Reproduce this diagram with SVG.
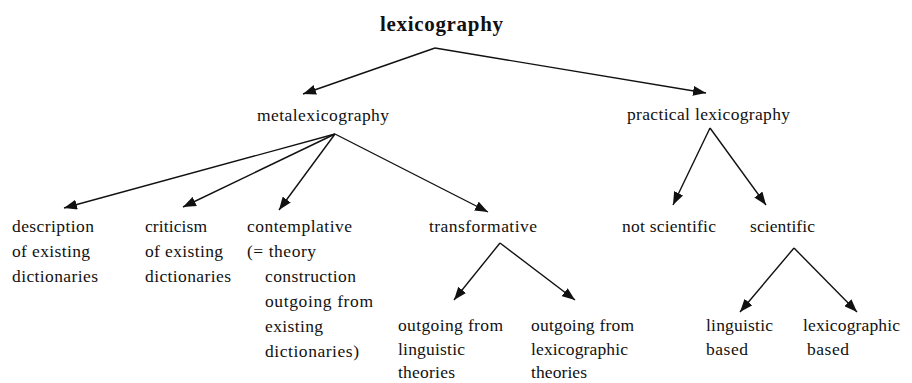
<svg xmlns="http://www.w3.org/2000/svg" width="912" height="383" viewBox="0 0 912 383">
<style>
text{font-family:"Liberation Serif","Times New Roman",serif;font-size:17.5px;fill:#111}
.title{font-size:21px;font-weight:bold}
.c line{stroke:#111;stroke-width:1.4;marker-end:url(#ah)}
</style>
<defs>
<marker id="ah" markerUnits="userSpaceOnUse" markerWidth="14" markerHeight="10" refX="13" refY="5" orient="auto">
<path d="M0,0 L13,5 L0,10 z" fill="#111"/>
</marker>
</defs>
<rect width="912" height="383" fill="#fff"/>
<g id="lexicography"><text class="title" x="380" y="31" textLength="123">lexicography</text></g>
<g id="metalexicography"><text x="257" y="121" textLength="132">metalexicography</text></g>
<g id="practical"><text x="627" y="120" textLength="163">practical lexicography</text></g>
<g id="description">
<text x="12" y="232" textLength="82">description</text>
<text x="12" y="257" textLength="78">of existing</text>
<text x="12" y="282" textLength="86">dictionaries</text>
</g>
<g id="criticism">
<text x="145" y="232" textLength="62">criticism</text>
<text x="145" y="257" textLength="78">of existing</text>
<text x="145" y="282" textLength="86">dictionaries</text>
</g>
<g id="contemplative">
<text x="247" y="232" textLength="105">contemplative</text>
<text x="247" y="257" textLength="69">(= theory</text>
<text x="265" y="282" textLength="91">construction</text>
<text x="265" y="307" textLength="108">outgoing from</text>
<text x="265" y="332" textLength="58">existing</text>
<text x="265" y="357" textLength="94">dictionaries)</text>
</g>
<g id="transformative"><text x="429" y="232" textLength="108">transformative</text></g>
<g id="linguistic-theories">
<text x="398" y="331" textLength="105">outgoing from</text>
<text x="398" y="355" textLength="67">linguistic</text>
<text x="398" y="378" textLength="57">theories</text>
</g>
<g id="lexicographic-theories">
<text x="531" y="331" textLength="103">outgoing from</text>
<text x="531" y="355" textLength="97">lexicographic</text>
<text x="531" y="378" textLength="56">theories</text>
</g>
<g id="not-scientific"><text x="622" y="232" textLength="94">not scientific</text></g>
<g id="scientific"><text x="750" y="232" textLength="65">scientific</text></g>
<g id="linguistic-based">
<text x="706" y="331" textLength="67">linguistic</text>
<text x="706" y="355" textLength="42">based</text>
</g>
<g id="lexicographic-based">
<text x="803" y="331" textLength="97">lexicographic</text>
<text x="807" y="355" textLength="42">based</text>
</g>
<g id="connectors" class="c">
<line x1="435" y1="48" x2="303" y2="94"/>
<line x1="435" y1="48" x2="706" y2="93"/>
<line x1="335" y1="134" x2="64" y2="208"/>
<line x1="335" y1="134" x2="183" y2="207"/>
<line x1="335" y1="134" x2="279" y2="210"/>
<line x1="335" y1="134" x2="488" y2="212"/>
<line x1="710" y1="128" x2="673" y2="205"/>
<line x1="710" y1="128" x2="766" y2="205"/>
<line x1="500" y1="243" x2="454" y2="300"/>
<line x1="500" y1="243" x2="575" y2="300"/>
<line x1="794" y1="248" x2="740" y2="312"/>
<line x1="794" y1="248" x2="857" y2="312"/>
</g>
</svg>
